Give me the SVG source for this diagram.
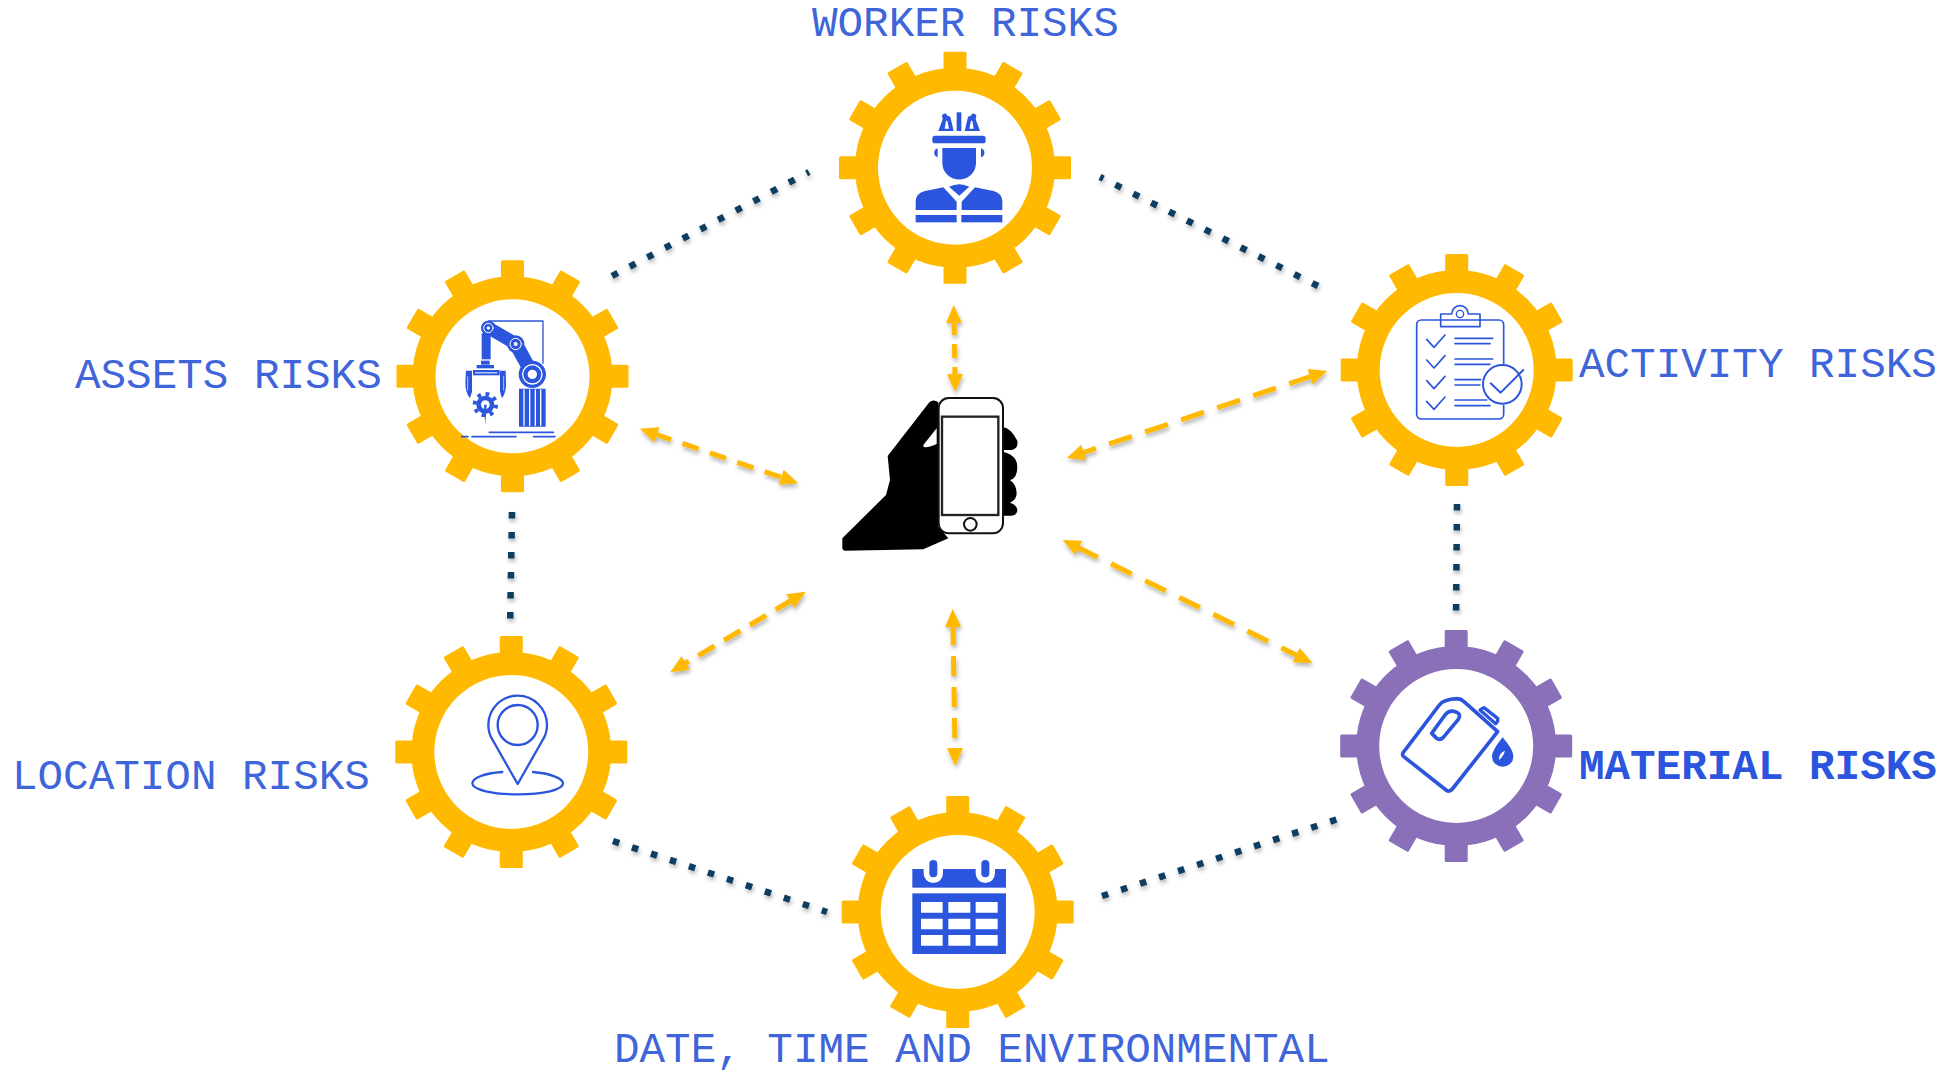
<svg xmlns="http://www.w3.org/2000/svg" width="1949" height="1075" viewBox="0 0 1949 1075">
<style>
text{font-family:"Liberation Mono","Courier New",monospace;font-size:42.6px;fill:#3f65da}
.b{fill:#2b55dc;stroke:none}
.s{fill:none;stroke:#2b55dc;stroke-linecap:round;stroke-linejoin:round}
.w{fill:#fff;stroke:none}
.dot{fill:none;stroke:#0c3c60;stroke-width:6.5;stroke-dasharray:6.5 13.5;filter:url(#sh)}
.arr{fill:none;stroke:#ffb900;stroke-width:5;marker-start:url(#ah);marker-end:url(#ah);filter:url(#sh)}
</style>
<defs>
<filter id="sh" x="0" y="0" width="1949" height="1075" filterUnits="userSpaceOnUse"><feDropShadow dx="1" dy="3" stdDeviation="2" flood-color="#000" flood-opacity=".3"/></filter>
<marker id="ah" viewBox="0 0 18 16" refX="2" refY="8" markerWidth="18" markerHeight="16" markerUnits="userSpaceOnUse" orient="auto-start-reverse"><path d="M18 8L0 0L0 16Z" fill="#ffb900"/></marker>
<rect id="t" x="-11.5" y="-116" width="23" height="24" rx="1.5" fill="currentColor"/>
<g id="gear">
<circle r="88.5" fill="#fff" stroke="currentColor" stroke-width="23"/>
<use href="#t"/><use href="#t" transform="rotate(30)"/><use href="#t" transform="rotate(60)"/><use href="#t" transform="rotate(90)"/><use href="#t" transform="rotate(120)"/><use href="#t" transform="rotate(150)"/><use href="#t" transform="rotate(180)"/><use href="#t" transform="rotate(210)"/><use href="#t" transform="rotate(240)"/><use href="#t" transform="rotate(270)"/><use href="#t" transform="rotate(300)"/><use href="#t" transform="rotate(330)"/>
</g>
</defs>
<g id="connectors">
<path class="dot" d="M612 276L809 172"/>
<path class="dot" d="M1318 286L1100 177"/>
<path class="dot" d="M512 512L510 630"/>
<path class="dot" d="M1457 504L1456 620"/>
<path class="dot" d="M613 841L827 912"/>
<path class="dot" d="M1102 896L1341 818"/>
<path class="arr" stroke-dasharray="14 9" d="M954 321L955 376"/>
<path class="arr" stroke-dasharray="17 12" d="M655 434L783 478"/>
<path class="arr" stroke-dasharray="24 14" d="M1312 376L1082 453"/>
<path class="arr" stroke-dasharray="19 11" d="M792 600L684 664"/>
<path class="arr" stroke-dasharray="20 11" d="M953 625L955 750"/>
<path class="arr" stroke-dasharray="23 15" d="M1077 547L1298 656"/>
</g>
<g id="worker">
<use href="#gear" x="955" y="167.7" color="#ffb900"/>
<g transform="translate(800 0) scale(.33333)">
<rect class="b" x="397" y="407" width="160" height="23" rx="8"/>
<rect class="b" x="470" y="337" width="14" height="56"/>
<path class="b" d="M415 393L428 358L426 348A8 8 0 0 1 441 345L443 348A7 7 0 0 1 452 355L461 393ZM540 393L527 358L529 348A8 8 0 0 0 514 345L512 348A7 7 0 0 0 503 355L494 393Z"/>
<path class="w" d="M438 362L442 362L447 386L434 386ZM517 362L513 362L508 386L521 386Z"/>
<path class="b" d="M427 444H528V490A50 48 0 0 1 427 490Z"/>
<path class="b" d="M413 445A14 14 0 0 0 413 472ZM543 445A14 14 0 0 1 543 472Z"/>
<path class="b" d="M447 560Q478 545 508 560L478 587Z"/>
<path class="b" d="M347 630V605Q347 580 375 573L430 562L470 605V630ZM485 630V605L525 562L580 573Q607 580 607 605V630Z"/>
<rect class="b" x="347" y="645" width="123" height="22"/><rect class="b" x="484" y="645" width="123" height="22"/>
</g>
<text x="812" y="36">WORKER RISKS</text>
</g>
<g id="assets">
<use href="#gear" x="512.5" y="376.3" color="#ffb900"/>
<g transform="translate(380 250) scale(.33333)">
<path class="s" d="M325 213H489V340" stroke-width="4"/>
<rect class="b" x="305" y="250" width="27" height="78"/>
<path class="s" d="M325 233L407 281" stroke-width="38" stroke-linecap="butt"/>
<path class="s" d="M407 281L457 372" stroke-width="42" stroke-linecap="butt"/>
<circle class="b" cx="325" cy="234" r="22"/><circle class="s" cx="325" cy="234" r="14" style="stroke:#fff" stroke-width="3"/><circle class="w" cx="325" cy="234" r="5"/>
<circle class="b" cx="407" cy="282" r="26"/><circle class="s" cx="407" cy="282" r="17" style="stroke:#fff" stroke-width="3"/><circle class="w" cx="407" cy="282" r="6"/>
<circle class="b" cx="457" cy="373" r="41"/><circle class="s" cx="457" cy="373" r="29" style="stroke:#fff" stroke-width="4"/><circle class="w" cx="457" cy="373" r="14"/>
<path class="b" d="M417 416H497V530H417Z"/>
<path class="s" d="M432 420V526M449 420V526M466 420V526M482 420V526" style="stroke:#fff" stroke-width="4"/>
<rect class="b" x="303" y="332" width="26" height="12"/><rect class="b" x="290" y="345" width="52" height="10"/><rect class="b" x="279" y="360" width="80" height="16"/><rect class="w" x="285" y="367" width="66" height="3"/>
<path class="b" d="M258 362H276V425L270 445Q255 425 256 395ZM377 362H360V425L366 445Q380 425 378 395Z"/>
<path class="s" d="M263 380V420M371 380V420" style="stroke:#fff" stroke-width="2"/>
<circle cx="316" cy="464" r="32" fill="none" stroke="#2b55dc" stroke-width="12" stroke-dasharray="11 14.1"/>
<circle class="b" cx="316" cy="464" r="27"/><circle class="w" cx="316" cy="464" r="13"/><path class="b" d="M312 464H320L316 524Z"/>
<path class="s" d="M328 547H520M245 560H264M276 560H408M461 560H525" stroke-width="5"/>
</g>
<text x="75" y="388">ASSETS RISKS</text>
</g>
<g id="activity">
<use href="#gear" x="1456.7" y="370" color="#ffb900"/>
<g transform="translate(1330 240) scale(.33333)">
<rect class="s" x="260" y="240" width="261" height="297" rx="14" stroke-width="5"/>
<circle class="w" cx="517" cy="433" r="62"/>
<circle class="s" cx="517" cy="433" r="58" stroke-width="6"/>
<path class="s" d="M332 260V222H365A25 25 0 0 1 415 222H450V260Z" stroke-width="5" fill="#fff"/>
<circle class="s" cx="390" cy="222" r="11" stroke-width="4"/>
<path class="s" d="M290 298L312 322L345 285M290 360L312 384L345 347M290 422L312 446L345 409M290 484L312 508L345 471" stroke-width="5"/>
<path class="s" d="M375 295H488M375 311H480M375 357H488M375 373H480M375 419H452M375 435H450M375 480H470M375 497H480" stroke-width="5"/>
<path class="s" d="M482 430L512 458L580 390" stroke-width="6"/>
</g>
<text x="1579" y="377">ACTIVITY RISKS</text>
</g>
<g id="material">
<use href="#gear" x="1456.2" y="746" color="#8970b8"/>
<g transform="translate(1330 620) scale(.33333)">
<path class="s" stroke-width="11" d="M220 397L328 255Q340 238 382 236Q392 236 402 245L503 335L367 507Q358 518 348 510L224 412Q214 405 220 397Z"/>
<path class="s" stroke-width="11" d="M305 340L345 285Q358 268 378 276Q395 282 385 298L340 352Q330 362 320 355Z"/>
<path class="s" stroke-width="10" d="M455 266L462 263L503 295Q505 305 497 311L450 270"/>
<path class="b" d="M518 352Q552 392 550 410A32 30 0 0 1 486 410Q485 392 518 352Z"/>
<path class="w" d="M507 420Q505 400 525 392Q520 410 507 420Z"/>
</g>
<text x="1579" y="779" font-weight="700" style="fill:#2b55dc">MATERIAL RISKS</text>
</g>
<g id="location">
<use href="#gear" x="511.3" y="752" color="#ffb900"/>
<g transform="translate(380 630) scale(.33333)">
<path class="s" stroke-width="7" d="M413 462L338 330Q325 310 325 285A88 88 0 0 1 501 285Q501 310 488 330Z"/>
<circle class="s" cx="413" cy="285" r="60" stroke-width="7"/>
<path class="s" stroke-width="7" d="M367 426C310 430 277 445 277 460C277 480 340 493 413 493C490 493 549 480 549 460C549 445 510 430 459 426"/>
</g>
<text x="12" y="789">LOCATION RISKS</text>
</g>
<g id="date">
<use href="#gear" x="957.7" y="912" color="#ffb900"/>
<g transform="translate(830 790) scale(.33333)">
<rect class="b" x="247" y="237" width="281" height="56"/>
<rect class="b" x="247" y="310" width="281" height="182"/>
<path class="w" d="M281 237H339V250A29 29 0 0 1 281 250ZM437 237H495V250A29 29 0 0 1 437 250Z"/>
<rect class="b" x="298" y="210" width="24" height="52" rx="12"/><rect class="b" x="454" y="210" width="24" height="52" rx="12"/>
<path class="w" d="M273 336h65v32h-65zM355 336h66v32h-66zM437 336h66v32h-66zM273 386h65v32h-65zM355 386h66v32h-66zM437 386h66v32h-66zM273 435h65v32h-65zM355 435h66v32h-66zM437 435h66v32h-66z"/>
</g>
<text x="614" y="1062">DATE, TIME AND ENVIRONMENTAL</text>
</g>
<g id="phone" transform="translate(810 370) scale(.33333)">
<path fill="#000" d="M97 505L228 375L240 330L233 258L358 97Q370 86 385 97V470L415 505L340 538L105 542Q95 540 97 530Z"/>
<path fill="#000" d="M578 172Q600 172 622 212Q626 235 605 240H578ZM578 245Q622 255 622 290Q622 325 600 330Q620 345 620 370Q620 390 600 398Q622 405 622 422Q620 437 600 437H575Z"/>
<rect x="386" y="84" width="193" height="406" rx="30" fill="#fff" stroke="#111" stroke-width="6"/>
<path d="M380 175L340 225Q338 240 380 222Z" fill="#fff"/>
<rect x="396" y="140" width="169" height="295" fill="#fff" stroke="#222" stroke-width="7"/>
<circle cx="481" cy="463" r="19" fill="#fff" stroke="#111" stroke-width="6"/>
</g>
</svg>
